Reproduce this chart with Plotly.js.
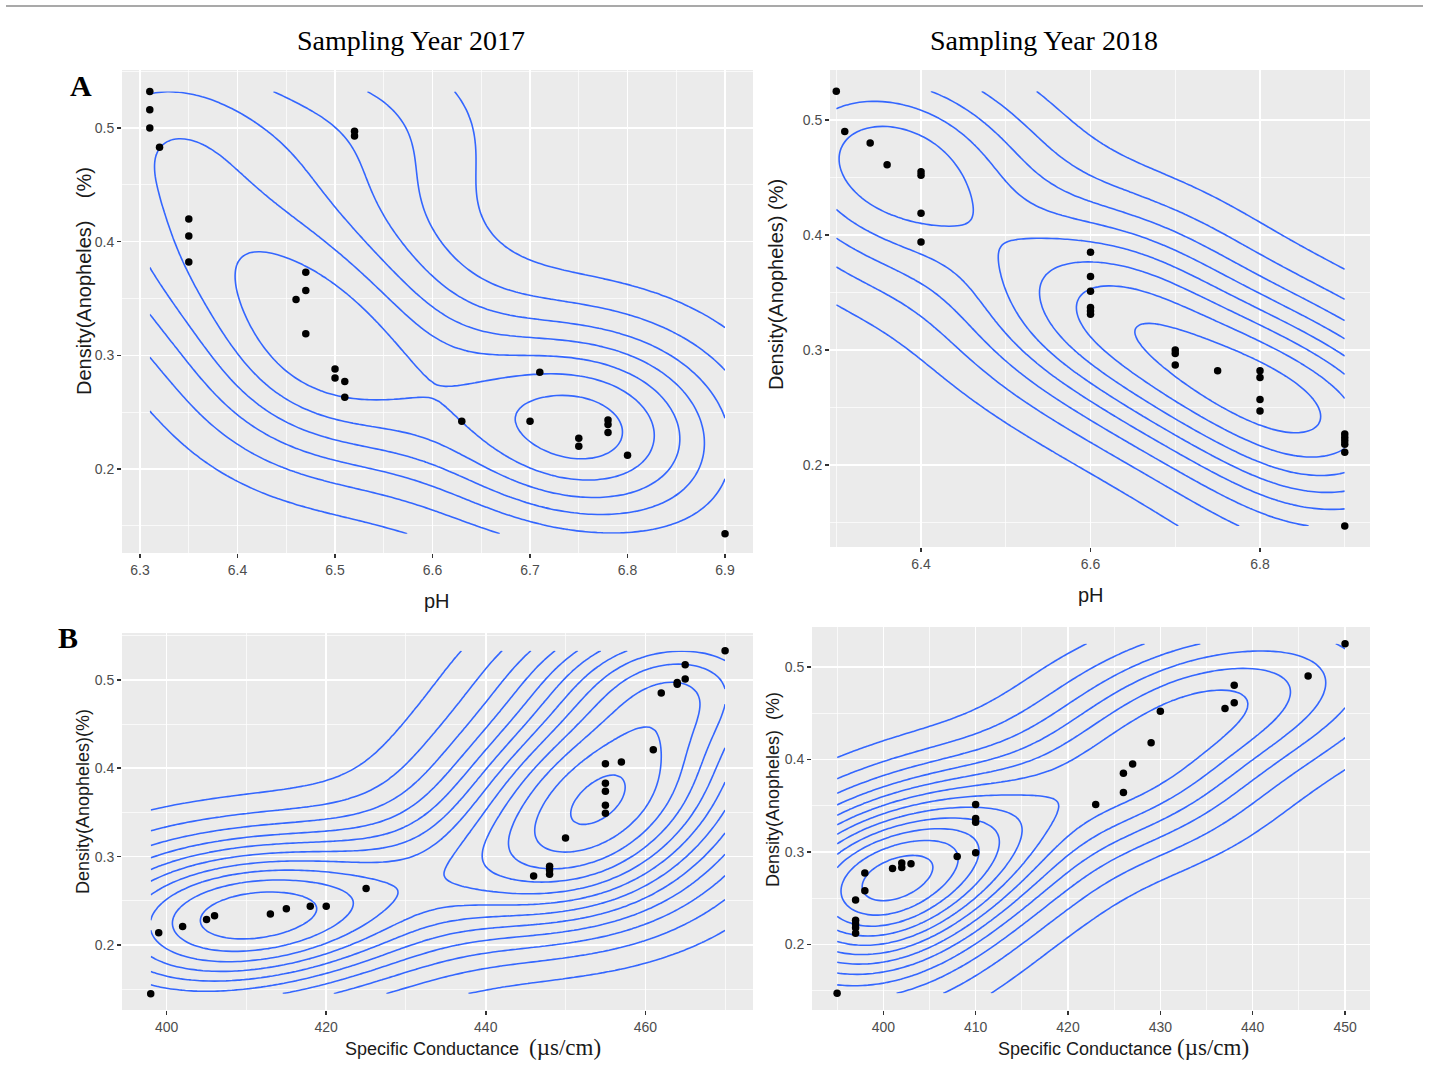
<!DOCTYPE html>
<html><head><meta charset="utf-8">
<script src="https://cdn.plot.ly/plotly-3.0.1.min.js"></script>
<style>html,body{margin:0;padding:0;background:#fff}</style>
</head><body><div id="chart" style="width:1431px;height:1070px"></div>
<script>
// ---------- data ----------
// A: pH vs Anopheles density, 2017
const ph2017 = [6.31,6.31,6.31,6.32,6.35,6.35,6.35,6.46,6.47,6.47,6.47,6.50,6.50,6.51,6.51,6.52,6.52,6.63,6.70,6.71,6.75,6.75,6.78,6.78,6.78,6.80,6.90];
const densPh2017 = [0.532,0.516,0.500,0.483,0.420,0.405,0.382,0.349,0.373,0.357,0.319,0.288,0.280,0.277,0.263,0.497,0.493,0.242,0.242,0.285,0.227,0.220,0.243,0.239,0.232,0.212,0.143];
// A: pH vs Anopheles density, 2018
const ph2018 = [6.30,6.31,6.34,6.36,6.40,6.40,6.40,6.40,6.60,6.60,6.60,6.60,6.60,6.60,6.70,6.70,6.70,6.75,6.80,6.80,6.80,6.80,6.90,6.90,6.90,6.90,6.90,6.90];
const densPh2018 = [0.525,0.490,0.480,0.461,0.455,0.452,0.419,0.394,0.385,0.364,0.351,0.337,0.334,0.331,0.300,0.297,0.287,0.282,0.282,0.276,0.257,0.247,0.227,0.224,0.221,0.218,0.211,0.147];
// B: specific conductance vs Anopheles density, 2017
const sc2017 = [398,399,402,405,406,413,415,418,420,425,446,448,448,448,450,455,457,455,455,455,455,461,462,464,464,465,465,470];
const densSc2017 = [0.145,0.214,0.221,0.229,0.233,0.235,0.241,0.244,0.244,0.264,0.278,0.289,0.285,0.280,0.321,0.405,0.407,0.383,0.374,0.358,0.349,0.421,0.485,0.497,0.495,0.501,0.517,0.533];
// B: specific conductance vs Anopheles density, 2018
const sc2018 = [395,397,397,397,397,397,398,398,401,402,402,403,408,410,410,410,410,423,426,426,427,429,430,437,438,438,446,450];
const densSc2018 = [0.147,0.248,0.226,0.222,0.218,0.212,0.277,0.258,0.282,0.288,0.283,0.287,0.295,0.351,0.336,0.332,0.299,0.351,0.364,0.385,0.395,0.418,0.452,0.455,0.461,0.480,0.490,0.525];

const titles = ['Sampling Year 2017','Sampling Year 2018'];
const panelLetters = ['A','B'];
const yTitles = ['Density(Anopheles)    (%)','Density(Anopheles) (%)','Density(Anopheles)(%)','Density(Anopheles)  (%)'];
const xTitles = ['pH','pH','Specific Conductance  <span style="font-family:Liberation Serif;font-size:23px">(µs/cm)</span>','Specific Conductance <span style="font-family:Liberation Serif;font-size:23px">(µs/cm)</span>'];

// ---------- 2D kernel density like MASS::kde2d (as in ggplot stat_density_2d) ----------
function sd(a){const m=a.reduce((s,v)=>s+v,0)/a.length;return Math.sqrt(a.reduce((s,v)=>s+(v-m)*(v-m),0)/(a.length-1));}
function quant(a,p){const s=[...a].sort((x,y)=>x-y);const h=(s.length-1)*p;const lo=Math.floor(h);return s[lo]+(h-lo)*((s[Math.min(lo+1,s.length-1)])-s[lo]);}
function bwnrd(a){const r=(quant(a,0.75)-quant(a,0.25))/1.34;return 4*1.06*Math.min(sd(a),r)*Math.pow(a.length,-0.2);}
function kde2d(xs,ys,n){
  const hx=bwnrd(xs)/4, hy=bwnrd(ys)/4;
  const x0=Math.min(...xs),x1=Math.max(...xs),y0=Math.min(...ys),y1=Math.max(...ys);
  const gx=[],gy=[];
  for(let i=0;i<n;i++){gx.push(x0+(x1-x0)*i/(n-1));gy.push(y0+(y1-y0)*i/(n-1));}
  const phi=u=>Math.exp(-0.5*u*u)/Math.sqrt(2*Math.PI);
  const z=[];
  for(let j=0;j<n;j++){const row=[];for(let i=0;i<n;i++){let s=0;for(let k=0;k<xs.length;k++){s+=phi((gx[i]-xs[k])/hx)*phi((gy[j]-ys[k])/hy);}row.push(s/(xs.length*hx*hy));}z.push(row);}
  return {gx,gy,z};
}
function pretty(lo,up,ndiv){
  const h=1.5,h5=0.5+1.5*h;
  let cell=(up-lo)/ndiv;
  const base=Math.pow(10,Math.floor(Math.log10(cell)));
  let unit=base,ns;
  if((ns=2*base)-cell<h*(cell-unit)){unit=ns;if((ns=5*base)-cell<h5*(cell-unit)){unit=ns;if((ns=10*base)-cell<h*(cell-unit))unit=ns;}}
  const a=Math.floor(lo/unit+1e-7),b=Math.ceil(up/unit-1e-7);
  return {start:a*unit,end:b*unit,size:unit};
}

const W=1431,H=1070;
const fx=p=>p/W, fy=p=>1-p/H;
const panels=[
  {xs:ph2017,ys:densPh2017,dom:[122,753,70,553],xr:[6.2815,6.9287],yr:[0.126,0.551],xt:[6.3,6.4,6.5,6.6,6.7,6.8,6.9],xminor:{tick0:6.25,dtick:0.1}},
  {xs:ph2018,ys:densPh2018,dom:[830,1370,70,547],xr:[6.2926,6.9298],yr:[0.1287,0.5435],xt:[6.4,6.6,6.8],xminor:{tick0:6.3,dtick:0.2}},
  {xs:sc2017,ys:densSc2017,dom:[122,753,633,1010],xr:[394.4,473.5],yr:[0.1265,0.553],xt:[400,420,440,460],xminor:{tick0:390,dtick:20}},
  {xs:sc2018,ys:densSc2018,dom:[812,1370,627,1010],xr:[392.28,452.7],yr:[0.129,0.543],xt:[400,410,420,430,440,450],xminor:{tick0:395,dtick:10}}
];

const traces=[];
const layout={width:W,height:H,margin:{l:0,r:0,t:0,b:0},paper_bgcolor:'#fff',plot_bgcolor:'#EBEBEB',showlegend:false,annotations:[],shapes:[]};
const tickFont={family:'Liberation Sans, Arial, sans-serif',size:14,color:'#4D4D4D'};
panels.forEach((p,i)=>{
  const sfx=i===0?'':String(i+1);
  const k=kde2d(p.xs,p.ys,100);
  let zmin=Infinity,zmax=-Infinity;k.z.forEach(r=>r.forEach(v=>{if(v<zmin)zmin=v;if(v>zmax)zmax=v;}));
  const lv=pretty(zmin,zmax,10);
  traces.push({type:'contour',x:k.gx,y:k.gy,z:k.z,xaxis:'x'+sfx,yaxis:'y'+sfx,autocontour:false,
    contours:{start:lv.start,end:lv.end,size:lv.size,coloring:'none',showlines:true},
    line:{color:'#3366FF',width:1.6,smoothing:1},showscale:false,hoverinfo:'skip'});
  traces.push({type:'scatter',mode:'markers',x:p.xs,y:p.ys,xaxis:'x'+sfx,yaxis:'y'+sfx,
    marker:{color:'#000',size:7.5},hoverinfo:'x+y'});
  const [l,r,t,b]=p.dom;
  layout['xaxis'+sfx]={domain:[fx(l),fx(r)],range:p.xr,anchor:'y'+sfx,tickvals:p.xt,ticktext:p.xt.map(String),
    ticks:'outside',ticklen:4,tickwidth:1.5,tickcolor:'#333',tickfont:tickFont,showgrid:true,gridcolor:'#fff',gridwidth:1.5,
    zeroline:false,showline:false,minor:{showgrid:true,gridcolor:'#fff',gridwidth:0.7,tick0:p.xminor.tick0,dtick:p.xminor.dtick,ticks:''}};
  layout['yaxis'+sfx]={domain:[fy(b),fy(t)],range:p.yr,anchor:'x'+sfx,tickvals:[0.2,0.3,0.4,0.5],ticktext:['0.2','0.3','0.4','0.5'],
    ticks:'outside',ticklen:4,tickwidth:1.5,tickcolor:'#333',tickfont:tickFont,showgrid:true,gridcolor:'#fff',gridwidth:1.5,
    zeroline:false,showline:false,minor:{showgrid:true,gridcolor:'#fff',gridwidth:0.7,tick0:0.15,dtick:0.1,ticks:''}};
});

const sans='Liberation Sans, Arial, sans-serif';
const ann=(x,y,text,font,extra)=>layout.annotations.push(Object.assign({xref:'paper',yref:'paper',x:fx(x),y:fy(y),text:text,showarrow:false,font:font,xanchor:'center',yanchor:'middle'},extra||{}));
// y-axis titles
[[84,281,20],[776,285,20],[83,802,18],[773,790,18]].forEach((c,i)=>ann(c[0],c[1],yTitles[i],{family:sans,size:c[2],color:'#1a1a1a'},{textangle:-90}));
// x-axis titles
[[437,601,20],[1091,595,20],[473,1047,18],[1123,1047,18]].forEach((c,i)=>ann(c[0],c[1],xTitles[i],{family:sans,size:c[2],color:'#1a1a1a'}));
// column titles and panel letters
const serif='Liberation Serif, Times New Roman, serif';
ann(411,40,titles[0],{family:serif,size:28,color:'#000'});
ann(1044,40,titles[1],{family:serif,size:28,color:'#000'});
ann(81,86,'<b>'+panelLetters[0]+'</b>',{family:serif,size:30,color:'#000'});
ann(68,637,'<b>'+panelLetters[1]+'</b>',{family:serif,size:30,color:'#000'});
// top border rule
layout.shapes.push({type:'line',xref:'paper',yref:'paper',x0:fx(6),x1:fx(1423),y0:fy(6),y1:fy(6),line:{color:'#8c8c8c',width:1.5}});

Plotly.newPlot('chart',traces,layout,{staticPlot:true,displayModeBar:false});
</script></body></html>
